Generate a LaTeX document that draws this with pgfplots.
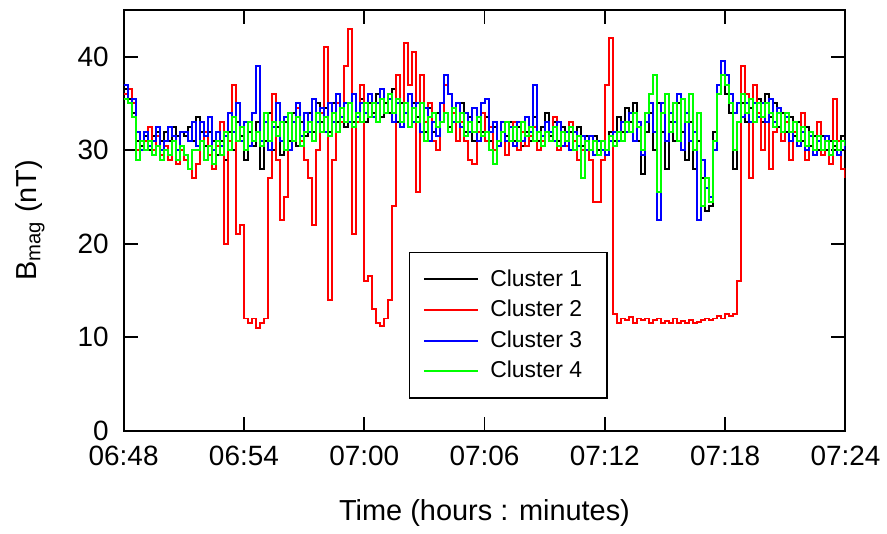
\documentclass[border=0pt]{standalone}
\usepackage{fontspec}
\setmainfont{Liberation Sans}
\usepackage{pgfplots}
\usepackage{pgfplotstable}
\pgfplotsset{compat=1.18}

% t (minutes after 06:48), Cluster 1..4 field magnitude (nT)
\pgfplotstableread{
t c1 c2 c3 c4
0.0 36.5 36 37 35.5
0.2 35.5 36.5 35 35
0.4 34 35 35.5 33.5
0.6 31 30 32 29
0.8 30.5 31 30 31
1.0 31.5 31 32 30
1.2 30 32.5 30.5 31
1.4 31.5 30 31 29.5
1.6 32 31.5 32.5 30.5
1.8 31 29.5 30 29
2.0 32 30.5 31 30
2.2 31 29 32.5 29.5
2.4 32.5 31 31.5 31
2.6 31.5 28.5 30 29
2.8 32 30 32 30.5
3.0 31.5 29 32 29.5
3.2 32.5 28 31 28
3.4 31 27 33 30
3.6 33.5 28.5 30.5 30
3.8 32 31 33 31
4.0 30.5 32 31.5 29
4.2 32 29.5 33.5 30.5
4.4 31 28 30 28.5
4.6 29.5 30.5 32 31
4.8 31 33 30.5 29.5
5.0 29 20 31.5 32
5.2 32 31 34 30
5.4 30 37 32 33.5
5.6 33 21 35 31
5.8 31.5 22 31 32.5
6.0 29 12 33 30
6.2 32 11.5 30.5 33
6.4 30.5 12 34 31
6.6 33 11 39 32
6.8 28 11.5 31 30.5
7.0 31 12 33 34
7.2 34 27 30 31
7.4 30 36 32.5 33
7.6 32.5 29 35 31.5
7.8 29.5 22.5 31 33
8.0 33 25 33.5 30
8.2 31 30 30 34
8.4 34 33 33 31
8.6 30.5 34.5 35 33.5
8.8 33 31 31.5 30.5
9.0 31.5 29 34 32
9.2 34 27 32 33
9.4 32 22 35.5 31
9.6 35 30 33 34
9.8 33 34 34.5 32
10.0 34.5 41 32 33.5
10.2 32 14 35 31.5
10.4 35 29 33 34
10.6 33 35 36 32
10.8 34.5 33 33.5 34.5
11.0 32.5 39 35 33
11.2 35 43 33 35
11.4 33 21 36 32.5
11.6 34 33 33.5 34
11.8 35.5 37 35 33
12.0 33 16 34 35
12.2 35 16.5 36 33.5
12.4 34 13 33.5 35
12.6 36 11.5 35 33
12.8 33.5 11.2 36.5 35.5
13.0 35 12 34 34
13.2 34 14 35.5 36
13.4 36.5 24 33 34
13.6 33 38 35 35.5
13.8 35 33 32.5 33
14.0 34 41.5 34 35
14.2 32.5 37 36 32.5
14.4 35 40.5 33 34.5
14.6 33.5 25.5 35 33
14.8 35 38 32 35
15.0 32 33 34.5 31
15.2 34.5 35 31 33.5
15.4 32 31 33 34
15.6 34 30 31.5 32.5
15.8 33 33 35 33
16.0 34 37 38 34
16.2 32.5 36 36 32
16.4 34 34 33 34.5
16.6 33 31 35 33
16.8 35 33 32.5 34
17.0 32 31 34 31.5
17.2 33.5 29 32 33
17.4 31 28.5 34.5 32
17.6 33 32 31 33.5
17.8 32 34 35 31.5
18.0 33.5 31 35.5 32
18.2 31 32.5 32 30
18.4 32.5 30 33 28.5
18.6 30.5 31 30.5 31
18.8 32 33 33 32
19.0 31.5 29.5 31 33
19.2 33 31 32.5 31
19.4 31 33 30.5 32.5
19.6 32.5 30 33 31
19.8 30.5 32 31 33
20.0 32 30.5 33.5 31.5
20.2 31 31.5 32 32.5
20.4 33.5 32.5 37 31
20.6 31 30 32 32
20.8 32.5 31 31.5 30.5
21.0 34 32 33 32
21.2 31.5 31 32 31
21.4 33 33.5 31 32.5
21.6 31 30 33 30.5
21.8 32.5 32 30.5 32
22.0 30.5 30.5 32 31
22.2 32 33 30 32.5
22.4 31 31 32 30
22.6 32.5 29 30.5 31.5
22.8 30.5 30 31.5 27
23.0 31.5 31 30 31
23.2 30 29 31.5 30
23.4 31.5 24.5 29.5 31
23.6 30 24.5 31 29.5
23.8 31 29 30 31
24.0 30 37 29.5 30
24.2 32 42 31 31.5
24.4 31 12.5 32 30.5
24.6 33.5 11.5 31 32
24.8 32 12 33 31
25.0 34.5 11.8 32 33
25.2 33 12.2 34 32
25.4 35 11.5 31 34
25.6 31 12 33 32.5
25.8 27.5 11.8 29.5 30
26.0 32 12 33 34
26.2 34 11.5 35 36
26.4 30 11.8 32 38
26.6 35 12 22.5 25.5
26.8 32 11.5 35 34
27.0 28 11.7 31 36
27.2 33 11.5 34 32
27.4 31 12 33 35
27.6 35 11.5 36 31
27.8 32 11.7 30 35.5
28.0 29 11.5 34 33
28.2 33 11.8 31 36
28.4 28 11.5 32 30
28.6 31 11.6 22.5 34
28.8 27 11.8 29 24
29.0 23.5 12 26 27
29.2 24 11.8 25 24.5
29.4 32 12 30 31
29.6 36 12.3 37 36
29.8 38 12 39.5 38
30.0 36 12.5 38 37
30.2 34 12.3 36 35
30.4 28 12.5 34 30
30.6 33 16 35 33
30.8 35 39 33.5 36
31.0 33 36 35 34
31.2 34.5 27 33 35.5
31.4 33 37 35 33
31.6 35.5 34 33.5 35
31.8 33 30 35 33.5
32.0 36 33 33 35
32.2 33.5 28 35.5 34
32.4 35 32 33 32.5
32.6 32.5 34 34.5 34
32.8 34 31 32 32
33.0 32 33 33.5 34
33.2 33.5 29 31 32
33.4 31.5 32 33 33
33.6 33 30.5 30.5 31
33.8 31 34 32 32.5
34.0 32.5 29 30 30.5
34.2 30.5 32 31.5 32
34.4 31.5 30 29.5 30
34.6 30 33 31 31.5
34.8 31.5 29.5 30 30
35.0 30 31 31.5 31
35.2 31 28.5 29.5 29.5
35.4 30.5 35.5 31 31
35.6 29.5 31 29.5 30
35.8 31.5 28 31 31
36.0 31.5 27 30 30.5
}\bmag

\begin{document}
\begin{tikzpicture}
\begin{axis}[
    scale only axis,
    width=362pt,
    height=211pt,
    xmin=0, xmax=36,
    ymin=0, ymax=45,
    xtick={0,6,...,36},
    xticklabels={06:48,06:54,07:00,07:06,07:12,07:18,07:24},
    ytick={0,10,20,30,40},
    xtick pos=both, ytick pos=both,
    tick align=inside,
    major tick length=7pt,
    minor tick num=0,
    axis line style={line width=1pt},
    every tick/.style={line width=0.9pt, black},
    /pgf/number format/assume math mode=true,
    tick label style={font=\fontsize{14}{16}\selectfont},
    xticklabel style={yshift=-4pt},
    yticklabel style={xshift=-4pt},
    xlabel={Time (hours : minutes)},
    ylabel={B\textsubscript{mag} (nT)},
    label style={font=\fontsize{14.5}{17}\selectfont},
    xlabel style={at={(axis description cs:0.5,0)}, anchor=center, yshift=-41.5pt},
    ylabel style={at={(axis description cs:-0.13,0.5)}, anchor=center},
    legend style={
        at={(0.395,0.076)}, anchor=south west,
        draw=black, line width=0.8pt,
        font=\fontsize{11.5}{13}\selectfont,
        inner xsep=7pt, inner ysep=6.5pt,
        row sep=1.5pt,
        cells={anchor=west},
        nodes={inner xsep=5.5pt}
    },
    legend image code/.code={\draw[#1, line width=1pt] (0pt,0pt) -- (27pt,0pt);},
]
\addplot[black, line width=1pt, const plot] table[x=t, y=c1] {\bmag};
\addplot[red, line width=1pt, const plot] table[x=t, y=c2] {\bmag};
\addplot[blue, line width=1pt, const plot] table[x=t, y=c3] {\bmag};
\addplot[green, line width=1pt, const plot] table[x=t, y=c4] {\bmag};
\legend{Cluster 1, Cluster 2, Cluster 3, Cluster 4}
\end{axis}
\path ([xshift=-62pt, yshift=-50.5pt]current axis.south west)
    rectangle ([xshift=19.5pt, yshift=5pt]current axis.north east);
\end{tikzpicture}
\end{document}
